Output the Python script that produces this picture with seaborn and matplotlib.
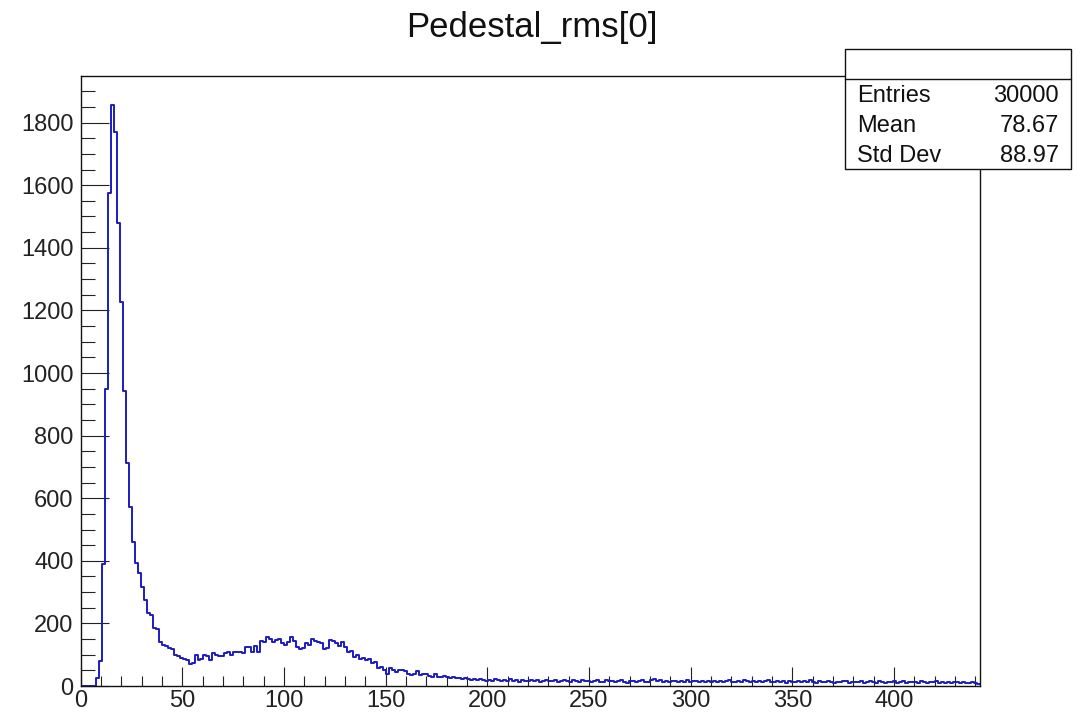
import numpy as np
import pandas as pd
import matplotlib
matplotlib.use("Agg")
import matplotlib.pyplot as plt
import seaborn as sns
from matplotlib.ticker import MultipleLocator
from matplotlib.patches import Rectangle
from matplotlib.lines import Line2D

# ---------------- data ----------------
title = "Pedestal_rms[0]"
x_min, x_max, n_bins = 0.0, 442.0, 300

peak_counts = [0, 0, 0, 0, 0, 25, 80, 390, 950, 1576,
               1856, 1769, 1478, 1228, 942, 713, 573, 461, 394, 362,
               317, 275, 232, 227, 184, 181, 142, 131, 128, 120,
               118]
bump_counts = [99, 96, 90, 85, 82, 70, 72, 99, 83, 86,
               99, 95, 83, 104, 100, 96, 96, 105, 108, 100,
               110, 108, 110, 106, 125, 126, 108, 128, 110, 145,
               140, 158, 150, 142, 148, 150, 138, 131, 140, 156,
               145, 126, 117, 120, 136, 130, 149, 144, 142, 138,
               117, 120, 147, 145, 136, 128, 140, 125, 110, 112,
               94, 100, 85, 90, 83, 85, 75, 78, 56, 60]
shoulder_counts = [50, 40, 56, 52, 45, 51, 50, 48, 40, 35,
                   38, 48, 36, 40, 38, 33, 30, 38, 30, 28,
                   32, 30, 26, 30, 25, 27, 24, 25]
tail_counts = [22, 20, 24, 18, 21, 19, 17, 20, 16, 22,
               18, 15, 19, 17, 21, 16, 18, 14, 20, 17,
               15, 18, 16, 20, 14, 17, 19, 15, 16, 18,
               14, 17, 20, 15, 13, 18, 16, 14, 19, 15,
               17, 13, 16, 18, 14, 12, 19, 15, 17, 13,
               16, 20, 14, 11, 15, 17, 13, 16, 18, 14,
               12, 19, 21, 15, 18, 13, 16, 14, 17, 15,
               13, 16, 14, 18, 12, 15, 17, 13, 16, 14,
               15, 12, 16, 14, 17, 13, 15, 18, 12, 14,
               16, 13, 19, 15, 12, 17, 14, 16, 13, 15,
               18, 12, 14, 16, 13, 15, 11, 17, 14, 13,
               16, 12, 15, 14, 18, 13, 11, 15, 14, 12,
               16, 13, 10, 14, 12, 15, 17, 11, 13, 14,
               12, 15, 9, 14, 16, 12, 10, 15, 13, 11,
               14, 12, 16, 11, 13, 15, 10, 14, 12, 13,
               11, 15, 12, 10, 14, 13, 16, 11, 12, 10,
               13, 11, 14, 12, 10, 13, 11, 9, 12, 10, 8]

stats_labels = ["Entries", "Mean", "Std Dev"]
stats_values = ["30000", "78.67", "88.97"]

counts = np.array(peak_counts + bump_counts + shoulder_counts + tail_counts, dtype=float)
bin_w = (x_max - x_min) / n_bins
centers = x_min + bin_w * (np.arange(n_bins) + 0.5)
df = pd.DataFrame({"x": centers, "w": counts})

# ---------------- style ----------------
sns.set_theme(style="white")
plt.rcParams["font.family"] = ["Liberation Sans", "DejaVu Sans"]

fig = plt.figure(figsize=(10.84, 7.17), dpi=100)
ax = fig.add_axes([0.0744, 0.0432, 0.8292, 0.8508])

sns.histplot(data=df, x="x", weights="w", bins=n_bins, binrange=(x_min, x_max),
             element="step", fill=False, color="#1c1cc0", linewidth=1.4, ax=ax)

ax.set_xlim(x_min, x_max)
ax.set_ylim(0, 1.05 * counts.max())
ax.set_xlabel("")
ax.set_ylabel("")

ax.xaxis.set_major_locator(MultipleLocator(50))
ax.xaxis.set_minor_locator(MultipleLocator(10))
ax.yaxis.set_major_locator(MultipleLocator(200))
ax.yaxis.set_minor_locator(MultipleLocator(50))

ax.tick_params(axis="x", which="major", direction="in", length=13.5, width=0.8,
               color="#222222", labelsize=17, pad=3, top=False, bottom=True)
ax.tick_params(axis="x", which="minor", direction="in", length=7, width=0.8,
               color="#222222", top=False, bottom=True)
ax.tick_params(axis="y", which="major", direction="in", length=20, width=0.8,
               color="#222222", labelsize=17, pad=5, left=True, right=False)
ax.tick_params(axis="y", which="minor", direction="in", length=10, width=0.8,
               color="#222222", left=True, right=False)
for lab in ax.get_xticklabels() + ax.get_yticklabels():
    lab.set_color("#222222")

for s in ax.spines.values():
    s.set_visible(True)
    s.set_color("#111111")
    s.set_linewidth(1.0)

# title
fig.text(0.4908, 0.962, title, ha="center", va="center", fontsize=25, color="#111111")

# stats box
bx0, bx1, by0, by1, bym = 0.7795, 0.988, 0.7643, 0.9317, 0.8898
fig.patches.append(Rectangle((bx0, by0), bx1 - bx0, by1 - by0, transform=fig.transFigure,
                             facecolor="white", edgecolor="#111111", linewidth=1.0, zorder=5))
fig.lines.append(Line2D([bx0, bx1], [bym, bym], transform=fig.transFigure,
                        color="#111111", linewidth=1.0, zorder=6))
row_y = [1 - 96 / 717, 1 - 126 / 717, 1 - 156 / 717]
for lab, val, yy in zip(stats_labels, stats_values, row_y):
    fig.text(857 / 1084, yy, lab, ha="left", va="center", fontsize=17, color="#111111", zorder=7)
    fig.text(1059 / 1084, yy, val, ha="right", va="center", fontsize=17, color="#111111", zorder=7)

fig.savefig("out.png", dpi=100)
